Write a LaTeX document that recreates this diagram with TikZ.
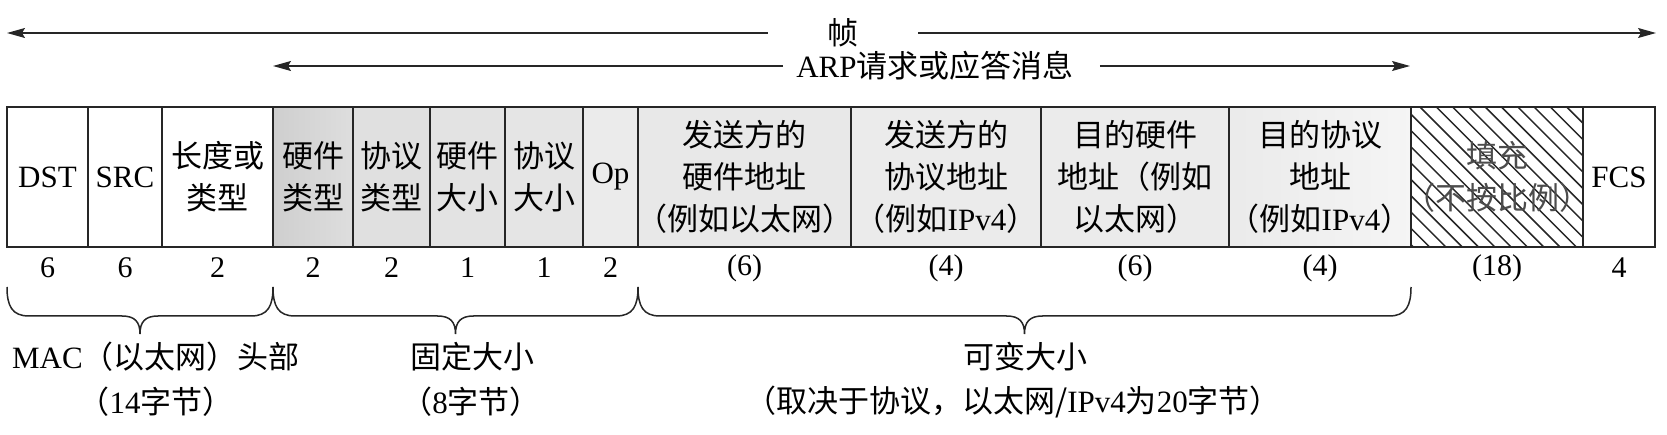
\documentclass[tikz,border=0pt]{standalone}
\usepackage{fontspec}
\setmainfont{Liberation Serif}
\newfontfamily\cjkfont{Noto Sans CJK SC}
\newfontfamily\latfont{Liberation Serif}
\newcommand\la[1]{{\latfont #1}}
\usetikzlibrary{arrows.meta}

% #1 left, #2 right, #3 name, #4 box options, #5 text options, #6 text, #7 size
\newcommand\mkfield[7]{%
  \node[box,#4,minimum width={#2-#1}] (#3) at ({(#1+#2)/2},177) {};
  \node[boxtext,#5] (#3t) at (#3.center) {#6};
  \node[num] (#3n) at ({(#1+#2)/2},268) {#7};}

\newcommand\drawbrace[2]{%
  \pgfmathsetmacro\braA{#1}\pgfmathsetmacro\braB{#2}\pgfmathsetmacro\braM{(#1+#2)/2}%
  \draw[bracel] (\braA,287) .. controls (\braA,306) and ({\braA+5},316) .. ({\braA+22},316)
    -- ({\braM-18},316) .. controls ({\braM-5},316) and (\braM,322) .. (\braM,334)
    .. controls (\braM,322) and ({\braM+5},316) .. ({\braM+18},316)
    -- ({\braB-22},316) .. controls ({\braB-5},316) and (\braB,306) .. (\braB,287);}

\begin{document}
\begin{tikzpicture}[x=1pt,y=-1pt,
  box/.style={draw=black!85, line width=1.4pt, minimum height=140, inner sep=0pt},
  boxtext/.style={inner sep=0pt, align=center, font={\cjkfont\fontsize{31}{42}\selectfont}},
  num/.style={inner sep=0pt, font={\latfont\fontsize{30}{36}\selectfont}},
  lbl/.style={inner sep=0pt, font={\cjkfont\fontsize{31}{40}\selectfont}},
  arr/.style={line width=1.3pt, draw=black!85, -{Stealth[length=18pt,width=10pt,inset=3pt]}},
  bracel/.style={line width=1.5pt, draw=black!85},
  hatch/.style={line width=1.5pt, draw=black!85}]
\useasboundingbox (0,0) rectangle (1667,435);

% top arrows
\node[lbl, minimum width=150] (frame) at (843,33) {帧};
\coordinate (fL) at (7,33);
\coordinate (fR) at (1656,33);
\draw[arr] (frame) -- (fL);
\draw[arr] (frame) -- (fR);

\node[lbl] (arp) at (935,66) {\la{ARP}请求或应答消息};
\coordinate (aL) at (273,66);
\coordinate (aR) at (1410,66);
\draw[arr] ([xshift=-13pt]arp.west) -- (aL);
\draw[arr] ([xshift=26pt]arp.east) -- (aR);

% hatching of the padding field
\begin{scope}
  \clip (1411,107) rectangle (1583,247);
  \foreach \i in {0,...,19} {
    \pgfmathsetmacro\hx{1273.3+16.3*\i}
    \draw[hatch] (\hx,107) -- ({\hx+140},247);
  }
\end{scope}

% fields
\mkfield{7}{88}{dst}{}{}{\la{DST}}{6}
\mkfield{88}{162}{src}{}{}{\la{SRC}}{6}
\mkfield{162}{273}{len}{}{}{长度或\\类型}{2}
\mkfield{273}{353}{hwt}{left color=black!19, right color=black!13}{}{硬件\\类型}{2}
\mkfield{353}{430}{prt}{fill=black!12}{}{协议\\类型}{2}
\mkfield{430}{505}{hws}{fill=black!11}{}{硬件\\大小}{1}
\mkfield{505}{583}{prs}{fill=black!10}{}{协议\\大小}{1}
\mkfield{583}{638}{op}{fill=black!8}{}{\la{Op}}{2}
\mkfield{638}{851}{sha}{fill=black!9}{}{发送方的\\硬件地址\\（例如以太网）}{(6)}
\mkfield{851}{1041}{spa}{fill=black!8}{}{发送方的\\协议地址\\（例如\la{IPv4}）}{(4)}
\mkfield{1041}{1229}{tha}{fill=black!8}{}{目的硬件\\地址（例如\\以太网）}{(6)}
\mkfield{1229}{1411}{tpa}{left color=black!8, right color=black!4}{}{目的协议\\地址\\（例如\la{IPv4}）}{(4)}
\mkfield{1411}{1583}{pad}{}{text=black!70}{填充\\（不按比例）}{(18)}
\mkfield{1583}{1655}{fcs}{}{}{\la{FCS}}{4}

% braces
\drawbrace{7}{273}
\drawbrace{273}{638}
\drawbrace{638}{1411}

% bottom labels
\node[lbl] (macl) at (156,357) {\la{MAC}（以太网）头部};
\node[lbl] (macb) at (156,402) {（\la{14}字节）};
\node[lbl] (fixl) at (472,357) {固定大小};
\node[lbl] (fixb) at (471,402) {（\la{8}字节）};
\node[lbl] (varl) at (1025,357) {可变大小};
\node[lbl] (varb) at (1013,402) {（取决于协议，以太网/\la{IPv4}为\la{20}字节）};
\end{tikzpicture}
\end{document}
